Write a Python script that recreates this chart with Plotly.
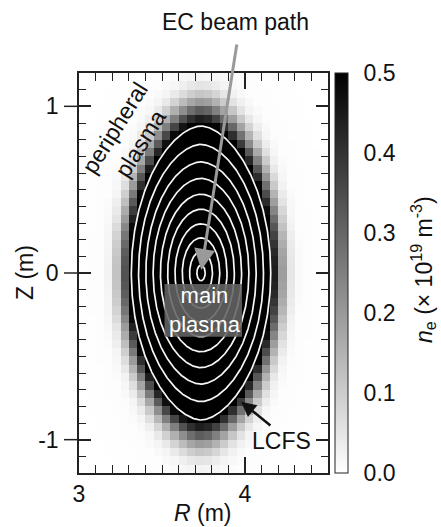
import numpy as np
import plotly.graph_objects as go

# ---------------- data ----------------
# flux-surface geometry of the plasma cross-section
R_axis = 3.735          # m, magnetic axis major radius
Z_axis = 0.0            # m
minor_a = 0.42          # m, LCFS half width
kappa_core = 1.85       # elongation near the axis
kappa_edge = 2.10       # elongation of the LCFS
tip_exp_edge = 1.15     # slight pointedness of the LCFS tips

# normalised radius of the drawn flux surfaces (last one = LCFS)
surface_rho = [0.06, 0.164, 0.269, 0.373, 0.478, 0.582, 0.687, 0.791, 0.896, 1.0]

# electron density profile versus normalised radius (x 10^19 m^-3)
profile_rho = [0.0, 1.0, 1.05, 1.10, 1.16, 1.22, 1.28, 1.34, 1.45, 2.0]
profile_ne = [1.0, 0.55, 0.44, 0.33, 0.20, 0.11, 0.05, 0.02, 0.004, 0.0]

# ticks
cb_ticks = [0.0, 0.1, 0.2, 0.3, 0.4, 0.5]
x_ticks = [3, 4]
x_ticklabels = ["3", "4"]
y_ticks = [-1, 0, 1]
y_ticklabels = ["-1", "0", "1"]

# pixel grid of the density map (cell centres, 0.05 m cells)
cell = 0.05
R_cells = np.arange(3.0 + cell / 2, 4.5, cell)
Z_cells = np.arange(-1.2 + cell / 2, 1.2, cell)


def kappa(rho):
    r = np.minimum(rho, 1.0)
    return kappa_core + (kappa_edge - kappa_core) * r ** 2


def tip_exp(rho):
    r = np.minimum(rho, 1.0)
    return 1.0 + (tip_exp_edge - 1.0) * r ** 2


def inside(x, z, rho):
    A = minor_a * rho
    B = A * kappa(rho)
    s = z / B
    ok = np.abs(s) < 1
    lhs = (x / A) ** 2
    rhs = np.where(ok, np.clip(1 - s ** 2, 0, None) ** tip_exp(rho), -1.0)
    return ok & (lhs <= rhs)


def rho_of(R, Z):
    x = R - R_axis
    z = Z - Z_axis
    lo = np.zeros_like(x)
    hi = np.full_like(x, 3.0)
    for _ in range(45):
        mid = 0.5 * (lo + hi)
        ins = inside(x, z, np.maximum(mid, 1e-6))
        hi = np.where(ins, mid, hi)
        lo = np.where(ins, lo, mid)
    return hi


RR, ZZ = np.meshgrid(R_cells, Z_cells)
rho_grid = rho_of(RR, ZZ)
ne_grid = np.interp(rho_grid, profile_rho, profile_ne)

FONT = "Liberation Sans, Arial, Helvetica, sans-serif"
FS = 23
TXT = "#111"

fig = go.Figure()

fig.add_trace(go.Heatmap(
    x=R_cells, y=Z_cells, z=ne_grid,
    zmin=0, zmax=0.5, zsmooth=False,
    colorscale=[[0, "#ffffff"], [1, "#000000"]],
    colorbar=dict(
        x=(335 - 79) / 249, xanchor="left", xpad=0,
        y=0.5, yanchor="middle", len=1, lenmode="fraction", ypad=0,
        thickness=13, outlinecolor="#222", outlinewidth=1,
        tickvals=cb_ticks, ticktext=[f"{v:.1f}" for v in cb_ticks],
        ticks="outside", ticklen=11, tickcolor="rgba(0,0,0,0)",
        tickfont=dict(family=FONT, size=FS, color=TXT),
    ),
    hoverinfo="skip",
))

# flux surfaces
t = np.linspace(0, 2 * np.pi, 600)
for rho in surface_rho:
    A = minor_a * rho
    B = A * kappa(rho)
    m = tip_exp(rho)
    c = np.cos(t)
    Rs = R_axis + A * np.sign(c) * np.abs(c) ** m
    Zs = Z_axis + B * np.sin(t)
    fig.add_trace(go.Scatter(x=Rs, y=Zs, mode="lines",
                             line=dict(color="#f6f6f6", width=1.7),
                             hoverinfo="skip", showlegend=False))

shapes = []
# "main plasma" label box
shapes.append(dict(type="rect", xref="x", yref="y", x0=3.515, x1=3.982,
                   y0=-0.383, y1=-0.066, line=dict(width=0),
                   fillcolor="rgba(100,100,100,0.88)", layer="above"))
# lines across the colorbar
cbx0 = (335 - 79) / 249
cbx1 = (348 - 79) / 249
for v in cb_ticks[1:-1]:
    shapes.append(dict(type="line", xref="paper", yref="paper",
                       x0=cbx0, x1=cbx1, y0=v / 0.5, y1=v / 0.5,
                       line=dict(color="#222", width=1)))
# outer part of the major Z ticks
for v in y_ticks:
    shapes.append(dict(type="line", xref="paper", yref="y",
                       x0=-15 / 249, x1=0, y0=v, y1=v,
                       line=dict(color="#222", width=1.5)))


def label(**kw):
    d = dict(showarrow=False, xanchor="center", yanchor="middle",
             font=dict(family=FONT, size=FS, color=TXT))
    d.update(kw)
    return d


ann = []
# EC beam path
ann.append(label(xref="paper", yref="paper", x=(235 - 79) / 249, y=(473 - 22) / 400,
                 text="EC beam path"))
ann.append(dict(x=3.737, y=0.018, ax=3.952, ay=1.38, axref="x", ayref="y",
                xref="x", yref="y", text="", showarrow=True,
                arrowhead=2, arrowsize=1.4, arrowwidth=3, arrowcolor="#9a9a9a"))
# peripheral plasma
ann.append(label(x=3.293, y=0.82, xref="x", yref="y", text="peripheral<br>plasma",
                 textangle=-58))
# main plasma
ann.append(label(x=3.76, y=-0.222, xref="x", yref="y", text="main<br>plasma",
                 font=dict(family=FONT, size=22, color="#ffffff")))
# LCFS
ann.append(dict(x=3.976, y=-0.772, ax=4.162, ay=-0.922, axref="x", ayref="y",
                xref="x", yref="y", text="", showarrow=True,
                arrowhead=2, arrowsize=1.2, arrowwidth=2.5, arrowcolor="#111"))
ann.append(label(x=4.222, y=-1.006, xref="x", yref="y", text="LCFS"))
# axis titles
ann.append(label(xref="paper", yref="paper", x=0.498, y=(473 - 513) / 400,
                 text="<i>R</i> (m)"))
ann.append(label(xref="paper", yref="paper", x=(25 - 79) / 249, y=0.5,
                 text="Z (m)", textangle=-90))
# colorbar title
ann.append(label(xref="paper", yref="paper", x=(423 - 79) / 249, y=(473 - 270) / 400,
                 text="<i>n</i><sub>e</sub> (× 10<sup>19</sup> m<sup>-3</sup>)",
                 textangle=-90))

axis_common = dict(showgrid=False, zeroline=False, showline=True,
                   linecolor="#222", linewidth=1.5, mirror="ticks",
                   ticks="inside", tickcolor="#222", tickwidth=1.5,
                   tickfont=dict(family=FONT, size=FS, color=TXT))

fig.update_layout(
    width=441, height=527,
    margin=dict(l=79, r=113, t=73, b=54),
    paper_bgcolor="white", plot_bgcolor="white",
    showlegend=False,
    shapes=shapes, annotations=ann,
    xaxis=dict(range=[3, 4.5], tickvals=x_ticks, ticktext=x_ticklabels, ticklen=16,
               minor=dict(dtick=0.1, tick0=3, ticks="inside", ticklen=8,
                          tickwidth=1.2, tickcolor="#222"),
               **axis_common),
    yaxis=dict(range=[-1.2, 1.2], tickvals=y_ticks, ticktext=y_ticklabels, ticklen=12,
               ticklabelstandoff=14,
               minor=dict(dtick=0.1, tick0=0, ticks="inside", ticklen=7,
                          tickwidth=1.2, tickcolor="#222"),
               **axis_common),
)

fig.write_html("out.html", config={"displayModeBar": False},
               post_script="document.body.style.margin='0px';document.body.style.padding='0px';")
